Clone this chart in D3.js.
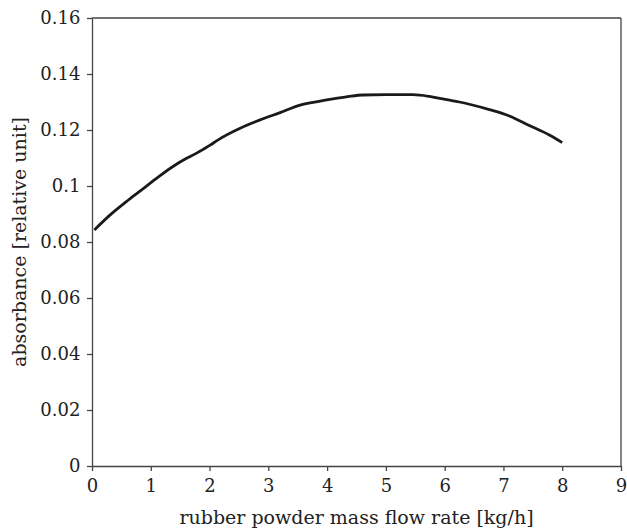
<!DOCTYPE html>
<html><head><meta charset="utf-8">
<script src="https://cdn.jsdelivr.net/npm/d3@7"></script>
<style>body{margin:0;background:#fff}svg{display:block}</style>
</head><body>
<script>
const xs = [0.04, 0.3, 0.62, 0.9, 1.13, 1.47, 1.81, 2.01, 2.14, 2.52, 2.86, 3.2, 3.54, 3.88, 4.1, 4.35, 4.61, 5.0, 5.46, 5.74, 5.97, 6.25, 6.42, 6.76, 7.1, 7.44, 7.78, 8.0];
const ys = [0.0843, 0.0895, 0.0950, 0.0995, 0.1033, 0.1082, 0.1121, 0.1146, 0.1164, 0.1206, 0.1236, 0.1262, 0.1289, 0.1303, 0.1311, 0.1319, 0.1325, 0.1326, 0.1326, 0.1320, 0.1311, 0.1300, 0.1292, 0.1273, 0.1250, 0.1216, 0.1182, 0.1155];
const xTicks = [0,1,2,3,4,5,6,7,8,9];
const yTicks = [0,0.02,0.04,0.06,0.08,0.1,0.12,0.14,0.16];
const xTitle = "rubber powder mass flow rate [kg/h]";
const yTitle = "absorbance [relative unit]";

const W=627,H=531, m={l:92,r:6,t:18,b:65};
const svg=d3.select("body").append("svg").attr("width",W).attr("height",H);
const x=d3.scaleLinear().domain([0,9]).range([m.l,W-m.r]);
const y=d3.scaleLinear().domain([0,0.16]).range([H-m.b,m.t]);
const font="DejaVu Serif";
const gx=svg.append("g").attr("transform",`translate(0,${H-m.b})`)
  .call(d3.axisBottom(x).tickValues(xTicks).tickFormat(d3.format("d")).tickSize(5).tickSizeOuter(0));
const gy=svg.append("g").attr("transform",`translate(${m.l},0)`)
  .call(d3.axisLeft(y).tickValues(yTicks).tickFormat(d=>d===0?"0":String(+d.toFixed(2))).tickSize(5).tickSizeOuter(0));
[gx,gy].forEach(g=>{g.selectAll("path,line").attr("stroke","#444").attr("stroke-width",1.3);
  g.selectAll("text").attr("font-family",font).attr("font-size",18).attr("fill","#222");});
gx.selectAll("text").attr("dy","1.0em");
gy.selectAll("text").attr("dx","-0.2em");
svg.append("line").attr("x1",x(0)).attr("x2",x(9)).attr("y1",y(0.16)).attr("y2",y(0.16)).attr("stroke","#444").attr("stroke-width",1.3);
svg.append("line").attr("x1",x(9)).attr("x2",x(9)).attr("y1",y(0.16)).attr("y2",y(0)).attr("stroke","#444").attr("stroke-width",1.3);
const line=d3.line().x((d,i)=>x(xs[i])).y((d,i)=>y(ys[i])).curve(d3.curveMonotoneX);
svg.append("path").datum(xs).attr("d",line).attr("fill","none").attr("stroke","#1a1a1a").attr("stroke-width",2.8);
svg.append("text").attr("x",(x(0)+x(9))/2).attr("y",524).attr("text-anchor","middle")
  .attr("font-family",font).attr("font-size",19).attr("fill","#222").text(xTitle);
svg.append("text").attr("transform",`translate(26,${(y(0)+y(0.16))/2}) rotate(-90)`).attr("text-anchor","middle")
  .attr("font-family",font).attr("font-size",19).attr("fill","#222").text(yTitle);
</script>
</body></html>
